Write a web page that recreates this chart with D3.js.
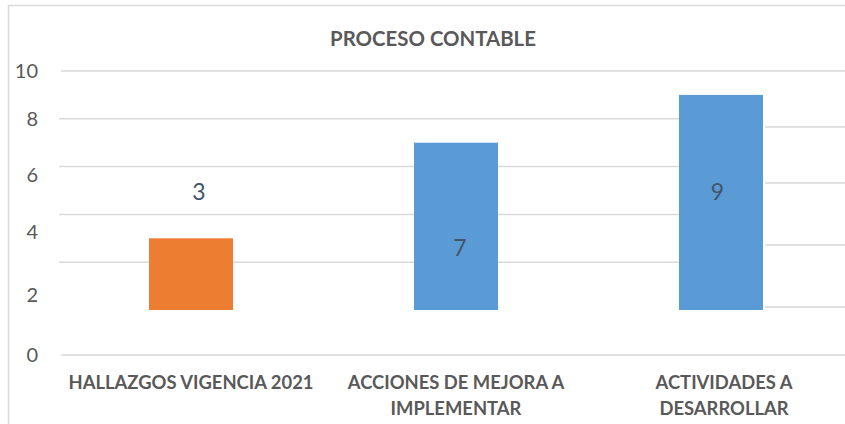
<!DOCTYPE html>
<html>
<head>
<meta charset="utf-8">
<script src="https://cdn.jsdelivr.net/npm/d3@7"></script>
<style>
  html, body { margin: 0; padding: 0; background: #fff; }
  svg { display: block; }
</style>
</head>
<body>
<script>
// ---- data ----
const title = "PROCESO CONTABLE";
const categories = [
  ["HALLAZGOS VIGENCIA 2021"],
  ["ACCIONES DE MEJORA A", "IMPLEMENTAR"],
  ["ACTIVIDADES A", "DESARROLLAR"]
];
const values = [3, 7, 9];
const barColors = ["#ED7D31", "#5B9BD5", "#5B9BD5"];
const yTicks = [0, 2, 4, 6, 8, 10];
// where each data label sits, in value units (as placed in the original)
const labelAt = [4.95, 2.6, 4.95];

// ---- layout ----
const W = 845, H = 424;
const svg = d3.select("body").append("svg")
  .attr("width", W).attr("height", H);

svg.append("rect").attr("width", W).attr("height", H).attr("fill", "#fff");

// chart frame (left and top edges visible)
svg.append("path")
  .attr("d", `M8.5,${H} L8.5,5.5 L${W},5.5`)
  .attr("fill", "none").attr("stroke", "#d9d9d9").attr("stroke-width", 1.5);

const x = d3.scaleBand()
  .domain(d3.range(categories.length))
  .range([58.5, 853.5])
  .paddingInner(0.683)
  .paddingOuter(0.3415);

// value scale for the bars and the plot gridlines
const y = d3.scaleLinear().domain([0, 10]).range([310, 71]);
// scale used by the axis labels (as drawn in the original)
const yLabel = d3.scaleLinear().domain(yTicks).range([355, 295, 232, 175, 119, 71]);
// gridlines drawn to the right of the last bar
const yRight = d3.scaleLinear().domain(yTicks).range([355, 307, 245, 183, 127, 71]);

const gridColor = "#d9d9d9";
const lastLeft = x(categories.length - 1);
const lastRight = lastLeft + x.bandwidth();

const grid = svg.append("g").attr("stroke", gridColor).attr("stroke-width", 1.5);
// left gridlines (values 2..8) up to the last bar
grid.selectAll("line.l").data(yTicks.filter(t => t > 0 && t < 10)).join("line")
  .attr("x1", 59).attr("x2", lastLeft)
  .attr("y1", d => y(d)).attr("y2", d => y(d));
// top gridline full width
grid.append("line")
  .attr("x1", 61).attr("x2", W).attr("y1", y(10)).attr("y2", y(10));
// right-of-last-bar gridlines
grid.selectAll("line.r").data(yTicks.filter(t => t > 0 && t < 10)).join("line")
  .attr("x1", lastRight + 2).attr("x2", W)
  .attr("y1", d => yRight(d)).attr("y2", d => yRight(d));
// baseline
grid.append("line")
  .attr("x1", 61).attr("x2", W).attr("y1", yLabel(0)).attr("y2", yLabel(0));

// y axis labels
svg.append("g").selectAll("text").data(yTicks).join("text")
  .attr("x", 38).attr("y", d => yLabel(d))
  .attr("dy", "0.36em")
  .attr("text-anchor", "end")
  .attr("font-family", "Lato, 'Open Sans', sans-serif")
  .attr("font-size", 20)
  .attr("fill", "#595959")
  .text(d => d);

// bars
svg.append("g").selectAll("rect").data(values).join("rect")
  .attr("x", (d, i) => x(i))
  .attr("y", d => y(d))
  .attr("width", x.bandwidth())
  .attr("height", d => y(0) - y(d))
  .attr("fill", (d, i) => barColors[i]);

// data labels
const labelDx = [8, 4, -3.5];
svg.append("g").selectAll("text").data(values).join("text")
  .attr("x", (d, i) => x(i) + x.bandwidth() / 2 + labelDx[i])
  .attr("y", (d, i) => y(labelAt[i]))
  .attr("dy", "0.36em")
  .attr("text-anchor", "middle")
  .attr("font-family", "Lato, 'Open Sans', sans-serif")
  .attr("font-size", 23)
  .attr("fill", "#44546A")
  .text(d => d);

// category labels
const catG = svg.append("g")
  .attr("font-family", "Lato, 'Open Sans', sans-serif")
  .attr("font-weight", "bold")
  .attr("font-size", 18.4)
  .attr("fill", "#595959")
  .attr("text-anchor", "middle");
categories.forEach((lines, i) => {
  const cx = x(i) + x.bandwidth() / 2 + (i === 2 ? 3 : 0);
  const t = catG.append("text").attr("x", cx).attr("y", 389);
  lines.forEach((ln, j) => {
    t.append("tspan")
      .attr("x", cx)
      .attr("dy", j === 0 ? 0 : 26)
      .text(ln);
  });
});

// title
svg.append("text")
  .attr("x", 433).attr("y", 46)
  .attr("text-anchor", "middle")
  .attr("font-family", "Lato, 'Open Sans', sans-serif")
  .attr("font-weight", "bold")
  .attr("font-size", 20.4)
  .attr("fill", "#595959")
  .text(title);
</script>
</body>
</html>
